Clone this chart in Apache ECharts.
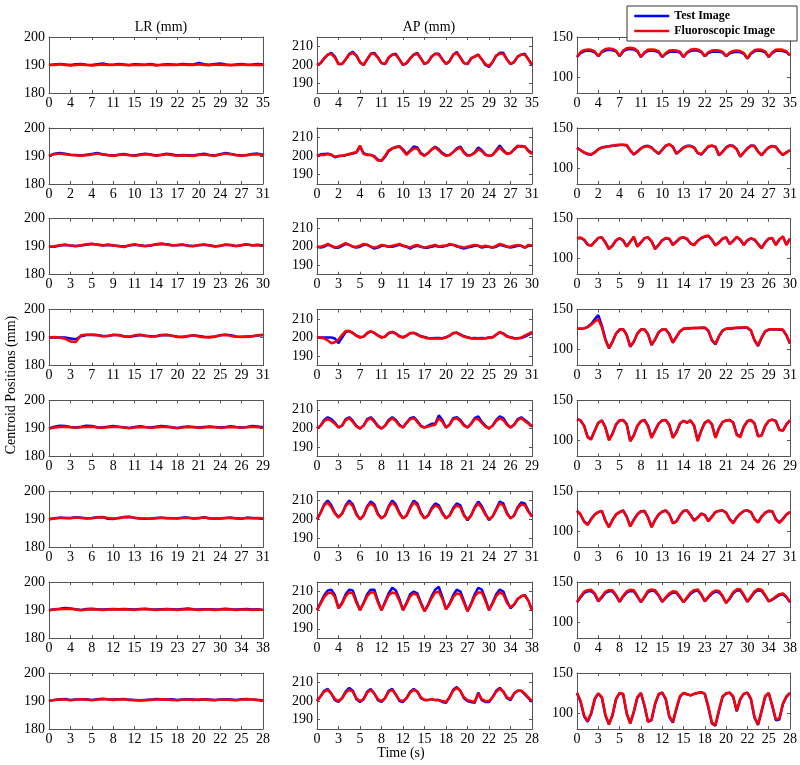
<!DOCTYPE html>
<html><head><meta charset="utf-8">
<script src="https://cdn.jsdelivr.net/npm/echarts@6/dist/echarts.min.js"></script>
<style>html,body{margin:0;padding:0;background:#fff}#c{width:800px;height:765px}</style>
</head><body><div id="c"></div>
<script>
// ---- tick labels per row (seconds) ----
const ticks1 = ['0','4','7','11','15','19','22','25','29','32','35'];
const ticks2 = ['0','2','4','6','10','13','17','20','24','27','31'];
const ticks3 = ['0','3','5','9','11','14','17','19','23','26','30'];
const ticks4 = ['0','3','7','11','15','17','20','22','25','29','31'];
const ticks5 = ['0','3','5','8','11','14','18','21','24','26','29'];
const ticks6 = ['0','3','6','10','13','16','19','21','24','27','31'];
const ticks7 = ['0','4','8','12','15','19','23','27','30','34','38'];
const ticks8 = ['0','3','5','8','12','15','18','20','22','25','28'];

// ---- LR (mm) ----
const lr1Test = [190,190.2,190.4,190.2,190,190.3,190.4,190.1,190,190.3,190.5,190.2,190.1,190.4,190.2,190,190.3,190.2,190.1,190.4,190,190.1,190.3,190.2,190.1,190.4,190.2,190.2,190.7,190.3,190.1,190.4,190.5,190.2,190,190.2,190.4,190.1,190.2,190.4,190.2];
const lr1Fluoro = [190,190,190.3,190,189.8,190,190.2,190,189.8,190,190.2,190,190,190.2,190,189.9,190.1,190,190,190.2,189.8,190,190.1,190,190,190.2,190,190,190.3,190,189.9,190.2,190.1,190,189.9,190,190.2,190,190,190.1,190];
const lr2Test = [190,190.8,191,190.8,190.4,190.3,190.1,190.4,190.7,191,190.6,190.3,190.1,190.4,190.7,190.3,190.1,190.5,190.8,190.5,190.1,190.4,190.8,190.5,190.1,190.3,190.2,190.1,190.5,190.8,190.3,190.1,190.6,191,190.7,190.3,190.1,190.3,190.7,190.8,190.4];
const lr2Fluoro = [190,190.6,190.8,190.6,190.3,190.2,190,190.2,190.5,190.8,190.5,190.2,190,190.3,190.5,190.2,190,190.3,190.6,190.4,190,190.3,190.6,190.3,190,190.2,190,190,190.3,190.5,190.2,190,190.5,190.8,190.6,190.2,190,190.2,190.5,190.6,190.3];
const lr3Test = [190,190,190.4,190.6,190.4,190.3,190.4,190.7,191,190.8,190.5,190.6,190.4,190.3,190.1,190.4,190.7,190.5,190.3,190.4,190.8,191,190.9,190.5,190.5,190.7,190.4,190.3,190.5,190.7,190.5,190.2,190.3,190.7,190.6,190.3,190.5,190.8,190.5,190.6,190.4];
const lr3Fluoro = [190,190.2,190.5,190.8,190.4,190.2,190.5,190.9,191.1,190.7,190.4,190.8,190.5,190.2,189.9,190.5,190.9,190.4,190.2,190.5,190.9,191.2,190.8,190.4,190.6,190.8,190.3,190.2,190.6,190.8,190.4,190.1,190.4,190.8,190.5,190.2,190.6,190.9,190.4,190.7,190.3];
const lr4Test = [190,190.1,190,190,189.7,189.4,190.5,190.9,191,190.9,190.6,190.6,190.9,190.9,190.5,190.3,190.6,190.9,190.7,190.5,190.5,190.8,190.9,190.7,190.4,190.3,190.5,190.8,190.6,190.3,190.2,190.4,190.8,191,190.8,190.4,190.3,190.4,190.5,190.7,190.9];
const lr4Fluoro = [190,190.2,190,189.6,188.6,188.4,190.8,191,191,190.8,190.5,190.6,191,190.8,190.4,190.3,190.8,191,190.6,190.4,190.5,190.9,191,190.6,190.2,190.1,190.6,190.8,190.4,190.1,190,190.3,190.8,191,190.6,190.3,190.2,190.3,190.5,190.8,191];
const lr5Test = [190,190.6,191,190.9,190.5,190.3,190.6,191,190.9,190.4,190.3,190.6,190.9,190.6,190.4,190.2,190.5,190.8,190.5,190.3,190.6,190.9,190.7,190.4,190.2,190.5,190.7,190.5,190.3,190.5,190.7,190.5,190.3,190.5,190.8,190.5,190.3,190.5,190.9,190.7,190.4];
const lr5Fluoro = [190,190.3,190.5,190.6,190.4,190.2,190.4,190.5,190.6,190.3,190.2,190.4,190.6,190.5,190.3,190.1,190.3,190.5,190.4,190.2,190.4,190.5,190.5,190.3,190.1,190.3,190.5,190.4,190.2,190.3,190.5,190.4,190.2,190.3,190.5,190.4,190.2,190.4,190.6,190.4,190.2];
const lr6Test = [190,190.4,190.6,190.5,190.5,190.7,190.6,190.4,190.5,190.7,190.8,190.2,190.1,190.5,190.8,190.9,190.5,190.3,190.2,190.3,190.5,190.6,190.4,190.4,190.4,190.6,190.6,190.3,190.4,190.7,190.4,190.3,190.3,190.5,190.6,190.4,190.2,190.6,190.5,190.4,190.2];
const lr6Fluoro = [190,190.3,190.5,190.5,190.4,190.6,190.5,190.3,190.4,190.6,190.7,190.5,190.3,190.4,190.7,190.8,190.6,190.4,190.3,190.2,190.4,190.5,190.5,190.4,190.3,190.5,190.5,190.4,190.5,190.6,190.3,190.2,190.4,190.5,190.5,190.3,190.3,190.5,190.4,190.5,190.3];
const lr7Test = [190,190.3,190.5,190.8,190.6,190.3,190.1,190.4,190.5,190.3,190.2,190.3,190.4,190.3,190.4,190.3,190.2,190.4,190.5,190.3,190.2,190.3,190.4,190.3,190.2,190.4,190.6,190.3,190.2,190.3,190.3,190.2,190.3,190.5,190.3,190.2,190.3,190.4,190.2,190.3,190.1];
const lr7Fluoro = [190,190.2,190.3,190.4,190.5,190.2,190,190.2,190.3,190.2,190.1,190.2,190.3,190.2,190.3,190.2,190.1,190.3,190.3,190.2,190.1,190.2,190.3,190.2,190.1,190.2,190.3,190.2,190.1,190.2,190.2,190.1,190.2,190.3,190.2,190.1,190.2,190.2,190.1,190.2,190.1];
const lr8Test = [190,190.4,190.6,190.7,190.4,190.5,190.6,190.6,190.4,190.6,190.8,190.6,190.5,190.6,190.7,190.5,190.4,190.3,190.4,190.5,190.7,190.6,190.5,190.6,190.4,190.5,190.6,190.5,190.4,190.6,190.5,190.4,190.5,190.6,190.5,190.4,190.6,190.7,190.5,190.4,190.3];
const lr8Fluoro = [190,190.4,190.5,190.5,190.3,190.5,190.6,190.5,190.3,190.5,190.6,190.6,190.4,190.5,190.6,190.4,190.3,190.2,190.3,190.4,190.5,190.6,190.5,190.4,190.3,190.5,190.5,190.4,190.5,190.5,190.4,190.3,190.5,190.5,190.4,190.3,190.5,190.6,190.5,190.4,190.2];

// ---- AP (mm) ----
const ap1Test = [200,201,203.5,205.5,206.5,204.5, 200.5,200.5,203,206,207,205, 201.5,200,203,206,206.5,204, 201,200.5,204,205.5,206,203, 200,201,203.5,205.5,206.5,203.5, 200.5,201.5,204.5,206,206,203, 200.5,202,205.5,207,204,201, 200.5,203.5,204.5,205.5,203,200, 199,201.5,205,206.5,206.5,203, 200.5,201.5,204.5,205.5,206,203, 200];
const ap1Fluoro = [200,201,203.5,205.5,206,204, 200.5,200.5,203,205.5,206.5,205, 201.5,200,203,206,206,204, 201,200.5,204,205.5,205.5,203, 200,201,203.5,205.5,206,203.5, 200.5,201.5,204.5,206,205.5,203, 200.5,202,205.5,206.5,204,201, 200.5,203.5,204.5,205.5,203,200.5, 199.5,201.5,205,206,206,203, 200.5,201.5,204.5,205.5,205.5,203, 200];
const ap2Test = [200,200.8,201,201.2,200.6,199.3, 199.8,200,200.3,200.8,201.3,201.8, 205,201.5,200.7,200.5,199.8,198, 197.3,199.5,202.5,204,204.8,205.2, 203.5,201,202.8,205,204.5,201.5, 200.2,201.5,203.5,204.8,203.5,201.5, 200.3,200.5,202,204,205,202, 200.2,200.5,201.8,204.5,203,200.8, 200,200.5,203,205.5,203,201.2, 201.5,203.3,205,205.3,205,202.8, 201.5];
const ap2Fluoro = [200,200.5,200.5,201,200.5,199.5, 200,200,200.5,201,201.5,202, 205.5,201,200.5,200.5,199.5,197.5, 197.5,200,203,204,204.5,205, 203,200.5,202.5,204,204,201, 200,201.5,203.5,204.5,203,201, 200,200.5,202,203.5,204.5,201.5, 200,200.5,201.5,203.5,202.5,200.5, 200,200.5,202.5,204.5,202.5,201, 201.5,203.5,205.5,205,205,202.5, 201];
const ap3Test = [200,199.5,200,201,200.5,199.5, 199.5,200.5,201.5,201,200,199.5, 200,201,201,200,199,199.5, 200.5,200.5,200,200,200.5,201, 200.5,200,199,200,200.5,200, 199.5,199.5,200,200.5,200,200, 200.5,201,201,200.5,199.5,199, 199.5,200,200.5,200.5,199.5,200, 200,199.5,200,201,200.5,200, 199.5,200,200.5,200.5,199.5,200.5, 200.5];
const ap3Fluoro = [200,200,200.5,201.5,200.5,199.5, 200,201,202,201,200,200, 200.5,201.5,201,200,199.5,200, 201,200.5,200,200.5,201,201.5, 200.5,200,199.5,200.5,201,200, 199.5,200,200.5,201,200,200.5, 200.5,201.5,201,200,200,199.5, 200,200.5,201,200.5,200,200.5, 200,199.5,200.5,201.5,201,200, 200,200.5,201,200.5,199.5,201, 200.5];
const ap4Test = [200,200,200,200,200,199.5, 197,200,203,203.5,202.5,201, 200.3,200.5,202.3,203.3,202.5,201.2, 200.2,200.5,202.3,203,202.2,200.8, 200.2,201,202.3,202.5,201.8,200.7, 200.3,199.8,199.7,199.8,199.8,199.7, 200.2,201,202.3,202.7,201.7,200.7, 200.2,199.7,199.8,199.7,199.8,199.6, 200,200.2,201.5,202.8,202.2,200.8, 200.2,199.8,199.6,199.8,200.5,201.5, 202.5];
const ap4Fluoro = [200,200,199.5,198.5,197,197.5, 199,201.5,203.5,203.5,202.5,201, 200,200.5,202.5,203.5,202.5,201, 200,200.5,202.5,203,202,200.5, 200,201,202.5,202.5,201.5,200.5, 200,199.5,199.5,199.5,199.5,199.5, 200,201,202.5,202.5,201.5,200.5, 200,199.5,199.5,199.5,199.5,199.5, 200,200,201.5,203,202,200.5, 200,199.5,199.5,200,201,202, 203];
const ap5Test = [200,201.5,204.5,206,205,203, 200.5,201.5,205,206,204,201.5, 200,201.5,205,206,204,201.5, 200,201.5,204.5,206,204.5,202, 200.5,203,205.5,206,204,201.5, 200.5,201.5,202.5,202.5,207,204.5, 200.5,202,205.5,206,204.5,202, 200.5,202.5,205.5,206.5,203.5,201.5, 200,201.5,204.5,206.5,205.5,202.5, 200.5,202,205,206,204.5,203, 201];
const ap5Fluoro = [200,201.5,204,205,204,202.5, 200.5,201.5,204.5,205.5,203.5,201, 200,201.5,204.5,205.5,203.5,201, 200,201.5,204,205.5,204,201.5, 200.5,203,205,205.5,203.5,201, 200.5,201,201.5,202,205.5,203.5, 200.5,202,205,205.5,204,201.5, 200.5,202.5,205,205,203,201, 200,201.5,204,205.5,204.5,202, 200.5,202,204.5,205.5,204,202.5, 201];
const ap6Test = [200,203.5,208,210,207.5,203.5, 201,203,207.5,210,208,203, 200,202,207,209.5,208,203, 200.5,202,207,210,208,203.5, 200.5,202,206.5,210,208.5,203.5, 200.5,202,206,208.5,207.5,203.5, 200.5,202,206,208.5,207.5,202.5, 199.5,202,206.5,209.5,207,203, 199.5,201.5,205.5,209.5,208.5,203.5, 200.5,202,206.5,209,208.5,204.5, 201.5];
const ap6Fluoro = [200,203.5,207.5,209,206.5,203, 201,203,207,209,207,202.5, 200,202,206.5,208.5,207,202.5, 200.5,202,206.5,209,207,203, 200.5,202,206,209,207.5,203, 200.5,202,205.5,207.5,206.5,203, 200.5,202,205.5,207.5,206.5,202, 200,202,206,208.5,206,202.5, 200,201.5,205,208.5,207.5,203, 200.5,202,206,208,207.5,204, 201.5];
const ap7Test = [200,204,208,210.5,211,208, 201,204,208.5,211,210.5,205, 200,204,208.5,211,211,205, 200,204.5,209,212,210.5,206, 200,204,208.5,210,209,204, 199.5,203,207.5,211,212.5,207, 200.5,203.5,208,211,210,205, 199.5,203.5,208.5,212,211,206, 200,204,208.5,211,210,205, 201,203,206,207.5,208,205, 200];
const ap7Fluoro = [200,203.5,207,209,209.5,207, 201,203.5,207.5,209.5,209,204, 200,203.5,207.5,209.5,209.5,204, 200,204,208,209.5,209,205, 200,203.5,207.5,209,208,203.5, 199.5,202.5,206.5,209.5,210,206, 200.5,203,207,209,208.5,204, 199.5,203,207.5,209.5,209.5,205, 200,203.5,207.5,209.5,208.5,204, 201.5,203,206,207.5,208,205, 200];
const ap8Test = [200,202.5,205.5,206.5,204,200.5, 199.5,201.5,205,207,205.5,201, 199.5,201,205,206.5,204,200.5, 199.5,201.5,205.5,206.5,203.5,200, 199.5,201.5,205,206.5,205,201.5, 200.5,200.5,201,200.5,200.5,199.5, 199,202,206,207.5,205.5,201.5, 200,199.5,199,204.5,200.5,199.5, 199.5,202,205.5,207,205,201.5, 200.5,204,205.5,205.5,203.5,201.5, 199.5];
const ap8Fluoro = [200,202.5,205,206,204,201, 200,201.5,204.5,206,205,201.5, 200,201,204.5,206,204,201, 200,201.5,205,206,203.5,200.5, 200,201.5,204.5,206,205,202, 200.5,200.5,201,200.5,200.5,200, 199.5,202,205.5,207,205.5,202, 200.5,200,199.5,204,201,200, 200,202,205,206.5,205,202, 201,204,205.5,205.5,204,202, 200];

// ---- third column ----
const si1Test = [125,130,132,133,132.5,131, 126,131,133,134,133.5,132, 126,132,134.5,135,134.5,132, 125,130,132.5,133,132.5,131, 125,129,131.5,132,131.5,130.5, 125,130,132.5,133.5,133,131, 126,130,131.5,132,131.5,130.5, 126,129.5,131,131.5,131,129, 123,129,132,133,132.5,131, 125,130,132.5,133,132.5,131, 127];
const si1Fluoro = [125,131,133.5,134.5,134,132, 126,132,135,135.5,135,133, 126,133,136,136.5,136,133, 125,131,134,134.5,134,132, 125,130,133,133.5,133,131.5, 125,131,134,135,134.5,132, 126,131,133,133.5,133,131.5, 126,130.5,132.5,133,132.5,130, 123,130,133.5,134.5,134,132, 125,131,134,134.5,134,132, 127];
const si2Test = [125,122,119,117,116.5,119.5, 123.5,125.5,126.5,127,127.5,128, 128.5,128.5,128,121.5,116.5,120.5, 124.5,127,127.5,125.5,121,117.5, 122.5,127.5,129,126.5,117.5,121.5, 125.5,127.5,127.5,125.5,118.5,116.5, 121.5,126.5,127.5,126.5,115.5,120.5, 125.5,128,127.5,123.5,114,119.5, 124.5,128,127.5,120.5,115.5,121.5, 125.5,127.5,126.5,120.5,116,119.5, 122];
const si2Fluoro = [125,122,119.5,117.5,117,119, 123,125,126,127,127.5,128.5, 129,129,128.5,122,117,120, 124,126.5,127,125,121,118, 123,128,129.5,126,118,121, 125,127,127,125,119,117, 122,127,128,126,116,120, 125,128,127,123,114.5,119, 124,127.5,127,120,116,121, 125.5,127,126,120,116.5,119, 122];
const si3Test = [125.5,126,123.5,117.5,116.5,121.5, 126,126.5,120.5,112.5,116.5,123, 125.5,122.5,115.5,121.5,127,115.5, 120.5,125.5,126.5,121.5,112.5,117.5, 123,125.5,124.5,117.5,121.5,125.5, 126.5,124.5,119,117.5,122.5,125.5, 127.5,128.5,123.5,117,120.5,125, 126.5,118.5,122.5,127,123.5,117.5, 123,125.5,123.5,118.5,113.5,120.5, 125,125.5,117.5,124,127.5,117.5, 125];
const si3Fluoro = [125.5,126.5,124,118,116,121, 126,127,120,112,116,123, 126,123,115,121,127.5,115, 120,125.5,127,122,112,117, 123,126,125,117,121,126, 127,125,119,117,122,126, 128,129,124,116.5,120,125, 127,118,122,127.5,124,117, 123,125.5,124,118,113,120, 125,126,117,124,128,117, 125];
const si4Test = [126,126,126.5,128.5,132,138, 143,130,113,101.5,109.5,120, 125,125.5,118.5,103.5,109.5,120, 125,125,119.5,105.5,112.5,121.5, 125,125,119.5,108.5,115.5,122.5, 126,126.5,126.5,127,127,127, 127,123.5,111.5,106.5,116.5,123.5, 126,126.5,126.5,127,127,127.5, 127,123.5,111.5,104.5,114.5,122.5, 125,125.5,125,125,124.5,117.5, 107.5];
const si4Fluoro = [126,126,126.5,128,131,135, 138,128,112,102,110,120, 125,125.5,118,104,110,120, 125,125.5,119,106,113,122, 125,125.5,119,109,116,123, 126,126.5,127,127,127,127.5, 127.5,124,112,107,117,124, 126,126.5,127,127.5,127.5,128, 127.5,124,112,105,115,123, 125,125.5,125.5,125.5,125,118, 108];
const si5Test = [126.5,125,118.5,104.5,102,112.5, 122,125,116.5,101,108.5,120, 125,125.5,120.5,99.5,106.5,118, 124,125.5,118.5,104,112.5,121, 125,125.5,119.5,104,110.5,121, 124.5,122.5,125,118.5,100,112.5, 122,125,120.5,104,115.5,123, 125,125.5,122.5,107.5,105,117.5, 124,125.5,121.5,105.5,106.5,118, 124.5,126,124.5,113.5,112.5,120, 125];
const si5Fluoro = [126.5,125,118,104,101,112, 122,125,116,100,108,120, 125,125.5,120,99,106,118, 124,125.5,118,103,112,121, 125,125.5,119,103,110,121, 124.5,122,125,118,99,112, 122,125,120,103,115,123, 125,125.5,122,107,104,117, 124,125.5,121,105,106,118, 124.5,126,124,113,112,120, 125];
const si6Test = [125.5,121,112.5,108.5,115.5,121, 124,125.5,113.5,105.5,114.5,121, 124,126,118.5,106.5,114.5,121, 125,125.5,117.5,105.5,114.5,121, 124.5,126,121.5,110.5,112.5,120, 125.5,126,120.5,113.5,117.5,122, 120.5,113,118.5,124,125.5,126, 123.5,115.5,110.5,117.5,122,125.5, 126,124,115.5,111.5,118.5,123, 125.5,125,115.5,111,115.5,121, 124];
const si6Fluoro = [125.5,121,112,108,115,121, 124,125.5,113,105,114,121, 124,126,118,106,114,121, 125,125.5,117,105,114,121, 124.5,126,121,110,112,120, 125.5,126,120,113,117,122, 120,112.5,118,124,125.5,126, 123,115,110,117,122,125.5, 126,124,115,111,118,123, 125.5,125,115,110.5,115,121, 124];
const si7Test = [125,131,136.5,138.5,139,135, 126,131,136.5,138.5,138.5,133, 125.5,132,137,139,138.5,132, 125,131,137.5,139.5,138.5,133, 125.5,130,134.5,137,136.5,131, 125,130,135.5,138.5,139.5,134, 126,131,135.5,138,137.5,132, 124,129,136,139.5,139.5,133, 125.5,131,137,140,139,133, 126,128,131,134,135,131, 125];
const si7Fluoro = [125,132,138,140,140.5,136, 126,132,138,140,140,134, 125.5,133,138.5,140.5,140,133, 125,132,139,141,140,134, 125.5,131,136,138.5,138,132, 125,131,137,140,141,135, 126,132,137,139.5,139,133, 124,130,137.5,141,141,134, 125.5,132,138.5,141.5,140.5,134, 126,128.5,132,135,136,132, 125];
const si8Test = [125,114,96,89,99,117, 124.5,119,97,86,97,117, 125,123,99,87,101,119, 125,109,89,91,111,123, 125.5,117,95,88,105,120, 125,123.5,122,124,125,126, 124,107,87,84,103,120, 124.5,125.5,120,102,117,124, 125.5,117,94,85,102,120, 125,109,91,92,111,120, 125];
const si8Fluoro = [125,115,97,90,100,118, 124.5,120,98,86,98,118, 125,124,100,87,102,120, 125,110,89,92,112,124, 125.5,118,96,89,106,121, 125,123.5,122,124,125,126, 124,108,88,85,104,121, 124.5,125.5,121,103,118,124, 125.5,118,95,86,103,121, 125,110,92,93,112,121, 125];

const rowTicks = [ticks1,ticks2,ticks3,ticks4,ticks5,ticks6,ticks7,ticks8];
const rowData = [
  [[lr1Test,lr1Fluoro],[ap1Test,ap1Fluoro],[si1Test,si1Fluoro]],
  [[lr2Test,lr2Fluoro],[ap2Test,ap2Fluoro],[si2Test,si2Fluoro]],
  [[lr3Test,lr3Fluoro],[ap3Test,ap3Fluoro],[si3Test,si3Fluoro]],
  [[lr4Test,lr4Fluoro],[ap4Test,ap4Fluoro],[si4Test,si4Fluoro]],
  [[lr5Test,lr5Fluoro],[ap5Test,ap5Fluoro],[si5Test,si5Fluoro]],
  [[lr6Test,lr6Fluoro],[ap6Test,ap6Fluoro],[si6Test,si6Fluoro]],
  [[lr7Test,lr7Fluoro],[ap7Test,ap7Fluoro],[si7Test,si7Fluoro]],
  [[lr8Test,lr8Fluoro],[ap8Test,ap8Fluoro],[si8Test,si8Fluoro]]
];
const colRange = [[180,200],[185,215],[80,150]];
const colLabels = [[180,190,200],[190,200,210],[100,150]];

const FONT = 'Liberation Serif';
const AX = '#555';
const colLeft = [49, 317, 577], colWidth = [214, 215, 214];
const top0 = 37, pitch = 90.86, plotH = 56;

const grids = [], xAxes = [], yAxes = [], series = [];
function pairs(arr){ const n = arr.length - 1; return arr.map((v,i)=>[i*10/n, v]); }

for (let r = 0; r < 8; r++) {
  for (let c = 0; c < 3; c++) {
    const g = r*3 + c;
    grids.push({left: colLeft[c], width: colWidth[c], top: top0 + r*pitch, height: plotH});
    const tk = rowTicks[r];
    xAxes.push({type:'value', gridIndex:g, min:0, max:10, interval:1, position:'bottom',
      axisLine:{show:true, onZero:false, lineStyle:{color:AX, width:1}},
      axisTick:{show:true, inside:true, length:3, lineStyle:{color:AX}},
      axisLabel:{show:true, margin:3, color:'#000', fontFamily:FONT, fontSize:14,
        formatter: v => tk[Math.round(v)], showMinLabel:true, showMaxLabel:true, hideOverlap:false},
      splitLine:{show:false}});
    xAxes.push({type:'value', gridIndex:g, min:0, max:10, interval:1, position:'top',
      axisLine:{show:true, onZero:false, lineStyle:{color:AX, width:1}},
      axisTick:{show:true, inside:true, length:3, lineStyle:{color:AX}},
      axisLabel:{show:false}, splitLine:{show:false}});
    const lab = colLabels[c];
    yAxes.push({type:'value', gridIndex:g, min:colRange[c][0], max:colRange[c][1], position:'left',
      axisLine:{show:true, onZero:false, lineStyle:{color:AX, width:1}},
      axisTick:{show:true, inside:true, length:3, customValues:lab, lineStyle:{color:AX}},
      axisLabel:{show:true, margin:4, color:'#000', fontFamily:FONT, fontSize:14, customValues:lab},
      splitLine:{show:false}});
    yAxes.push({type:'value', gridIndex:g, min:colRange[c][0], max:colRange[c][1], position:'right',
      axisLine:{show:true, onZero:false, lineStyle:{color:AX, width:1}},
      axisTick:{show:true, inside:true, length:3, customValues:lab, lineStyle:{color:AX}},
      axisLabel:{show:false}, splitLine:{show:false}});
    const [test, fluoro] = rowData[r][c];
    series.push({type:'line', name:'Test Image', xAxisIndex:2*g, yAxisIndex:2*g, data:pairs(test),
      symbol:'none', lineStyle:{color:'#0000ff', width:2.5}, itemStyle:{color:'#0000ff'}, animation:false, z:2});
    series.push({type:'line', name:'Fluoroscopic Image', xAxisIndex:2*g, yAxisIndex:2*g, data:pairs(fluoro),
      symbol:'none', lineStyle:{color:'#ff0000', width:2.5}, itemStyle:{color:'#ff0000'}, animation:false, z:3});
  }
}

const chart = echarts.init(document.getElementById('c'), null, {renderer:'canvas'});
chart.setOption({
  animation:false,
  backgroundColor:'#fff',
  grid: grids, xAxis: xAxes, yAxis: yAxes, series: series,
  title: [
    {text:'LR (mm)', left:156, top:15, textAlign:'center', textStyle:{fontFamily:FONT, fontSize:14, fontWeight:'normal', color:'#000'}},
    {text:'AP (mm)', left:424, top:15, textAlign:'center', textStyle:{fontFamily:FONT, fontSize:14, fontWeight:'normal', color:'#000'}}
  ],
  legend: {
    data:['Test Image','Fluoroscopic Image'], orient:'vertical', left:627, top:6, width:164,
    backgroundColor:'#fff', borderColor:'#333', borderWidth:1, padding:[4,22,4,6], itemGap:3,
    itemWidth:35, itemHeight:14, selectedMode:false, z:10,
    itemStyle:{color:'rgba(0,0,0,0)', borderColor:'rgba(0,0,0,0)', borderWidth:0, opacity:0},
    lineStyle:{width:2.5},
    textStyle:{fontFamily:FONT, fontSize:12, fontWeight:'bold', color:'#000'}
  },
  graphic: [
    {type:'text', x:11, y:385, rotation:Math.PI/2, z:10,
      style:{text:'Centroid Positions (mm)', fontFamily:FONT, fontSize:14, fill:'#000', align:'center', verticalAlign:'middle'}},
    {type:'text', x:401, y:753, z:10,
      style:{text:'Time (s)', fontFamily:FONT, fontSize:14, fill:'#000', align:'center', verticalAlign:'middle'}}
  ]
});
</script>
</body></html>
